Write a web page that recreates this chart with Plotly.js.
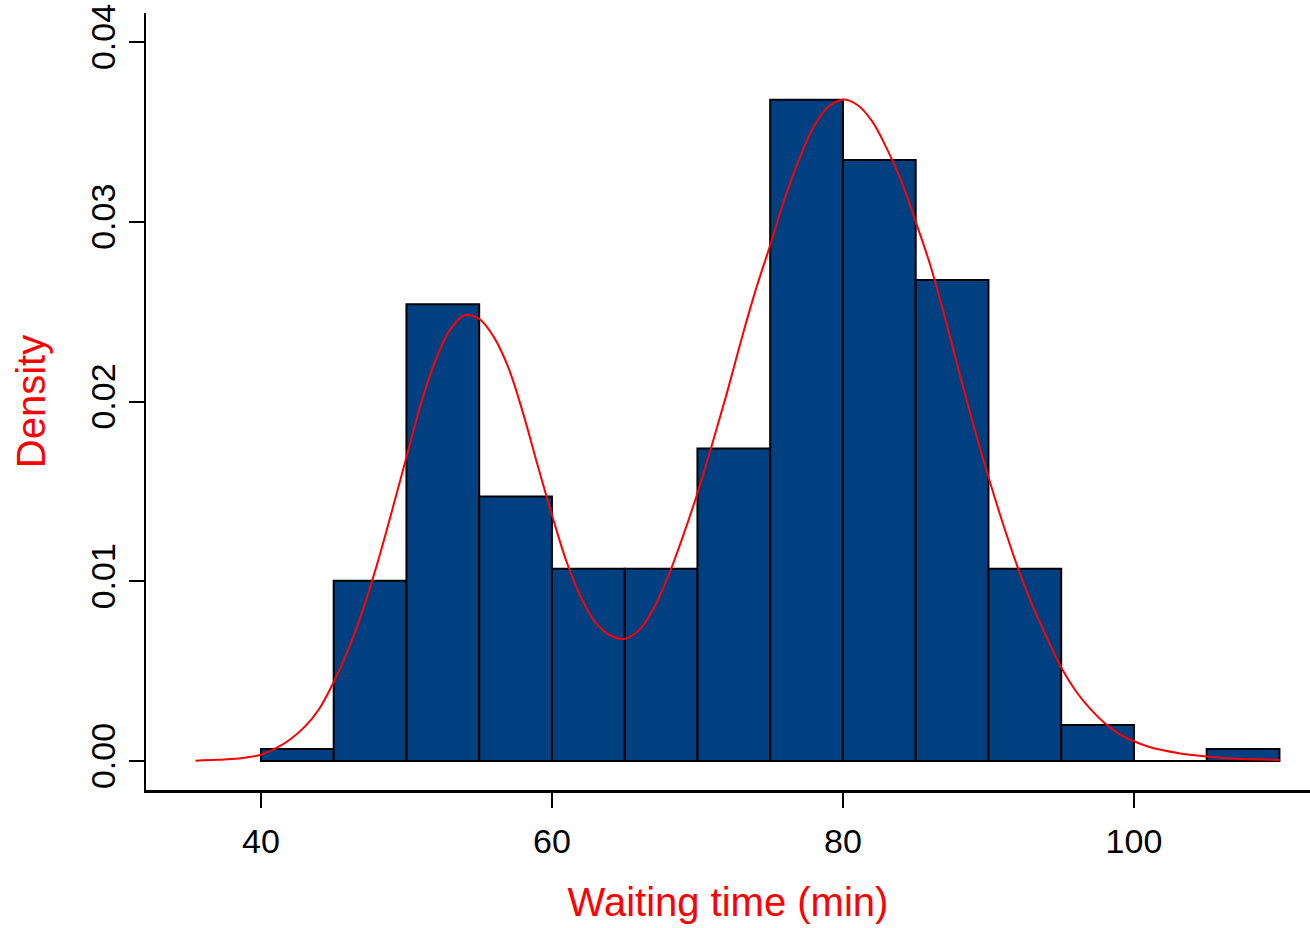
<!DOCTYPE html>
<html>
<head>
<meta charset="utf-8">
<script src="https://cdn.plot.ly/plotly-3.0.1.min.js"></script>
<style>html,body{margin:0;padding:0;background:#fff;}#chart{width:1310px;height:928px;}</style>
</head>
<body>
<div id="chart"></div>
<script>
// Histogram bins (left edges), bin width 5 min
const binStart = [40, 45, 50, 55, 60, 65, 70, 75, 80, 85, 90, 95, 100, 105];
const binWidth = 5;
// Density of each bin
const density = [0.00067, 0.01003, 0.02542, 0.01472, 0.01070, 0.01070, 0.01739,
                 0.03679, 0.03344, 0.02676, 0.01070, 0.00201, 0.00000, 0.00067];
// Kernel density curve
const kdeX = [35.5, 36, 37, 38, 39, 40, 41, 42, 43, 44, 45, 46, 47, 48, 49, 50,
              51, 52, 53, 54, 55, 56, 57, 58, 59, 60, 61, 62, 63, 64, 65, 66, 67, 68, 69, 70,
              71, 72, 73, 74, 75, 76, 77, 78, 79, 80, 81, 82, 83, 84, 85, 86, 87, 88, 89, 90,
              91, 92, 93, 94, 95, 96, 97, 98, 99, 100, 101, 102, 103, 104, 105, 106, 107, 108, 109, 110];
const kdeY = [0.00002, 0.00004, 0.00007, 0.00011, 0.0002, 0.00035, 0.0007, 0.0012, 0.0019, 0.0029, 0.0044, 0.0062, 0.0084, 0.0110, 0.0139, 0.0169,
              0.0199, 0.0223, 0.0240, 0.0248, 0.0246, 0.0236, 0.0219, 0.0194, 0.0165, 0.0137, 0.0111, 0.0091, 0.0077, 0.0070, 0.0068, 0.0073, 0.0085, 0.0103, 0.0125, 0.0149,
              0.0176, 0.0204, 0.0234, 0.0262, 0.0287, 0.0313, 0.0335, 0.0353, 0.0364, 0.0368, 0.0365, 0.0356, 0.0341, 0.0323, 0.0300, 0.0276, 0.0247, 0.0216, 0.0186, 0.0158,
              0.0132, 0.0108, 0.0087, 0.0069, 0.0052, 0.0039, 0.0029, 0.0021, 0.0015, 0.0011, 0.0008, 0.0006, 0.00045, 0.00034, 0.00025, 0.00018, 0.00013, 0.0001, 0.00008, 0.00006];
const xTicks = [40, 60, 80, 100];
const yTicks = [0.00, 0.01, 0.02, 0.03, 0.04];
const yTickLabels = ['0.00', '0.01', '0.02', '0.03', '0.04'];

const centers = binStart.map(b => b + binWidth / 2);
const lastEdge = binStart[binStart.length - 1] + binWidth;

const traces = [
  {
    type: 'scatter', mode: 'lines',
    x: [binStart[0], lastEdge], y: [0, 0],
    line: {color: '#000', width: 2},
    hoverinfo: 'skip', showlegend: false
  },
  {
    type: 'bar', x: centers, y: density, width: binWidth,
    marker: {color: 'rgb(0,64,128)', line: {color: '#000', width: 2}},
    showlegend: false
  },
  {
    type: 'scatter', mode: 'lines', x: kdeX, y: kdeY,
    line: {color: '#ff0000', width: 2, shape: 'spline', smoothing: 1},
    showlegend: false
  }
];

const layout = {
  width: 1310, height: 928,
  margin: {l: 146, r: 0, t: 13, b: 138, pad: 0},
  paper_bgcolor: '#fff', plot_bgcolor: '#fff',
  font: {family: 'Liberation Sans, Arial, sans-serif', color: '#000'},
  bargap: 0,
  xaxis: {
    range: [32.1, 112.1], showgrid: false, zeroline: false,
    showline: true, linecolor: '#000', linewidth: 2.5,
    ticks: 'outside', ticklen: 15, tickwidth: 2, tickcolor: '#000',
    tickvals: xTicks, ticktext: xTicks.map(String),
    ticklabelstandoff: 5,
    tickfont: {size: 34, color: '#000'},
    title: {text: 'Waiting time (min)', font: {size: 40, color: '#ff0000'}, standoff: 29}
  },
  yaxis: {
    range: [-0.00161, 0.04162], showgrid: false, zeroline: false,
    showline: true, linecolor: '#000', linewidth: 2.5,
    ticks: 'outside', ticklen: 15, tickwidth: 2, tickcolor: '#000',
    tickvals: yTicks, ticktext: yTickLabels, tickangle: -90,
    tickfont: {size: 34, color: '#000'},
    title: {text: 'Density', font: {size: 40, color: '#ff0000'}, standoff: 26}
  }
};

Plotly.newPlot('chart', traces, layout, {displayModeBar: false, staticPlot: true});
</script>
</body>
</html>
